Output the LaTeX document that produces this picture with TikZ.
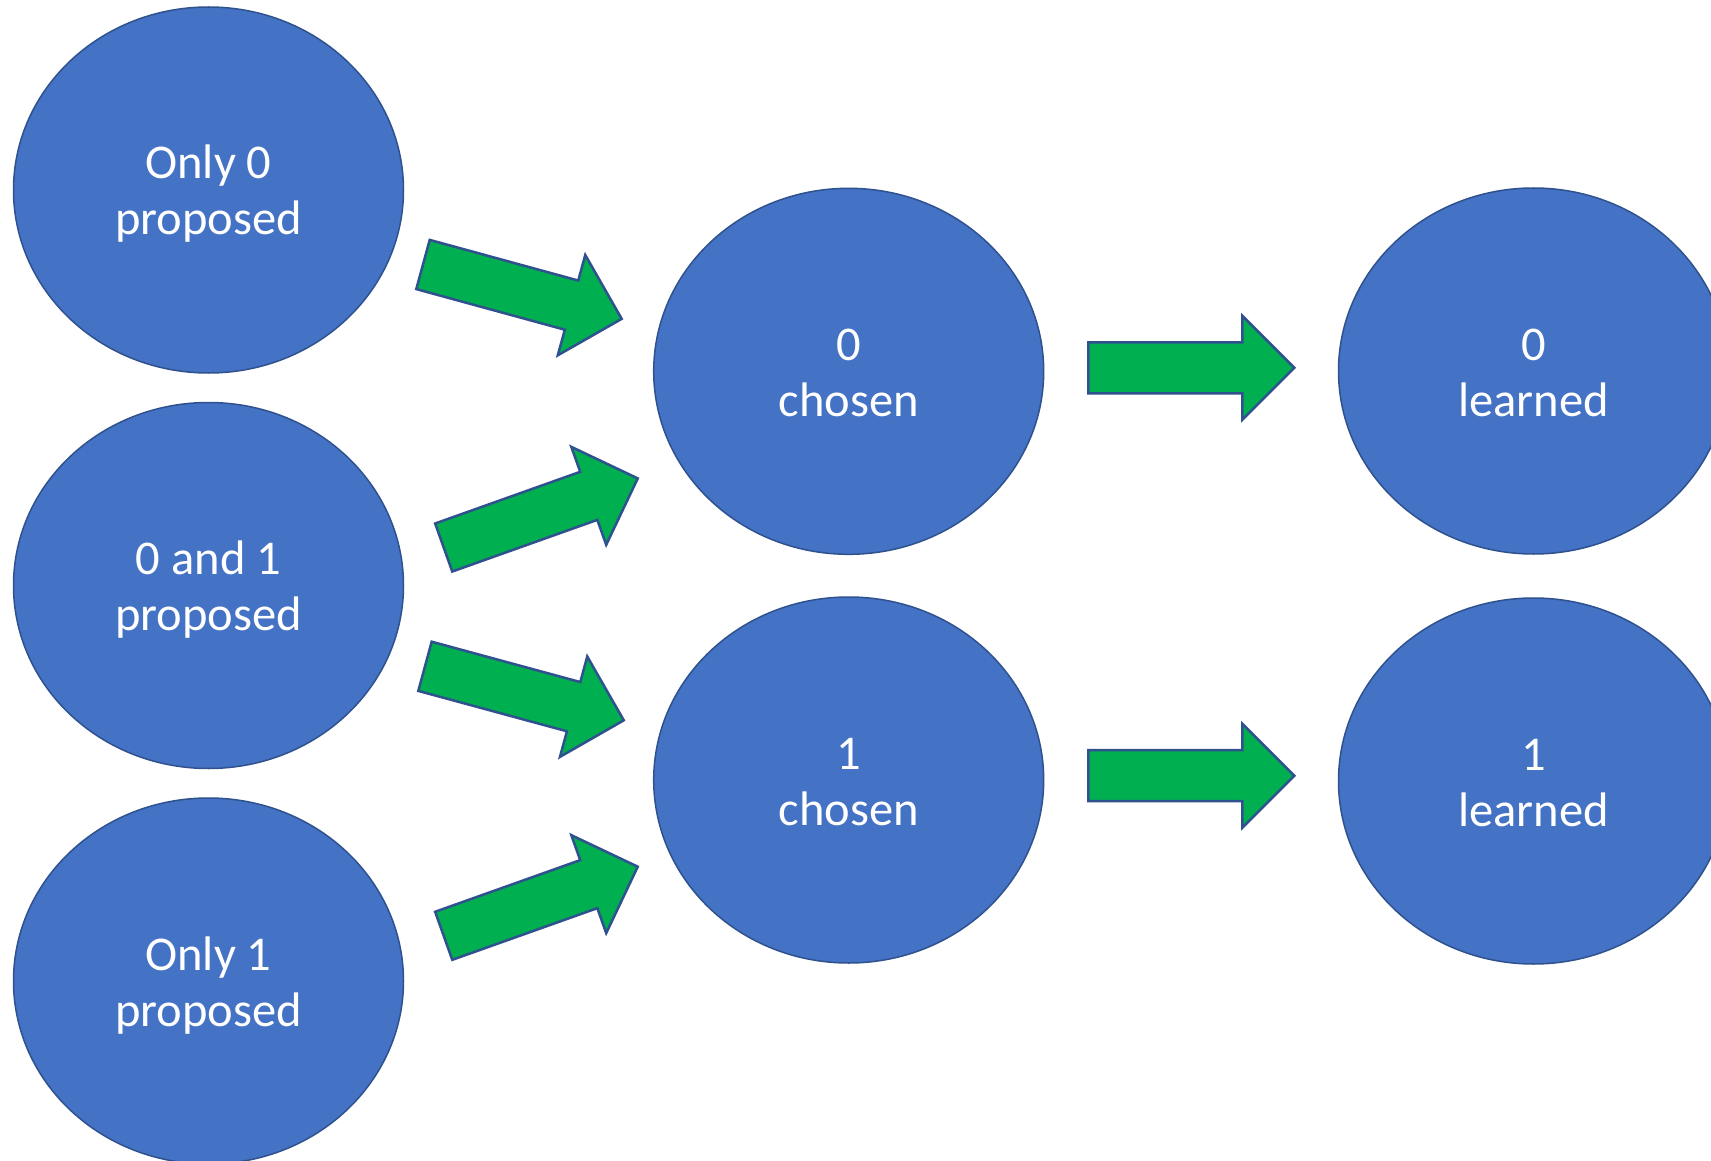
\documentclass[tikz,border=0pt]{standalone}
\usepackage{fontspec}
\setmainfont{Carlito}
\usetikzlibrary{shapes.geometric}
\definecolor{nodefill}{HTML}{4472C4}
\definecolor{nodeline}{HTML}{2F528F}
\definecolor{arrowfill}{HTML}{00B050}
\newcommand\tdown{\rule{0pt}{44pt}}
\newcommand\tdepth{\rule[-10pt]{0pt}{10pt}}
\tikzset{
  state/.style={ellipse, draw=nodeline, line width=1.5pt, fill=nodefill,
    minimum width=390pt, minimum height=366pt, inner sep=0pt,
    text=white, align=center, font=\fontsize{48.5}{56}\selectfont},
  blockarrow/.style={draw=nodeline, line width=2.5pt, fill=arrowfill, line join=miter},
  pics/barrow/.style={code={
    \path[blockarrow] (0,-25.5) -- (154,-25.5) -- (154,-52) -- (206,0)
      -- (154,52) -- (154,25.5) -- (0,25.5) -- cycle;}}
}
\begin{document}
\begin{tikzpicture}[x=1pt,y=-1pt]
\clip (0,0) rectangle (1711,1161);
\fill[white] (0,0) rectangle (1711,1161);
% states
\node[state] (p0)  at (208.5,190)   {\tdown Only 0\\proposed\tdepth};
\node[state] (p01) at (208.5,585.5) {\tdown 0 and 1\\proposed\tdepth};
\node[state] (p1)  at (208.5,981)   {\tdown Only 1\\proposed\tdepth};
\node[state] (c0)  at (848.7,371.3) {\tdown 0\\chosen\tdepth};
\node[state] (c1)  at (848.7,780)   {\tdown 1\\chosen\tdepth};
\node[state] (l0)  at (1533.5,371)  {\tdown 0\\learned\tdepth};
\node[state] (l1)  at (1533.5,781)  {\tdown 1\\learned\tdepth};
% block arrows
\pic[rotate=-15.3] (a1) at (423,264.5)   {barrow};
\pic[rotate=19.6]  (a2) at (443.7,547.5) {barrow};
\pic[rotate=-15.2] (a3) at (425,666.3)   {barrow};
\pic[rotate=19.6]  (a4) at (443.7,935.8) {barrow};
\pic (a5) at (1088.3,367.8) {barrow};
\pic (a6) at (1088.3,775.7) {barrow};
\end{tikzpicture}
\end{document}
